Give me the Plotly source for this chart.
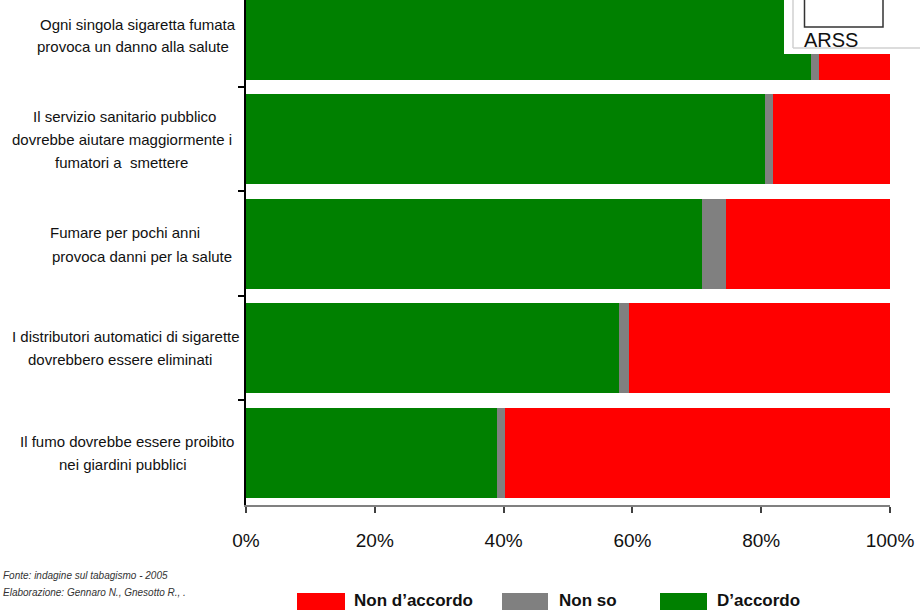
import plotly.graph_objects as go

# ---- data ----
categories = [
    "Ogni singola sigaretta fumata provoca un danno alla salute",
    "Il servizio sanitario pubblico dovrebbe aiutare maggiormente i fumatori a smettere",
    "Fumare per pochi anni provoca danni per la salute",
    "I distributori automatici di sigarette dovrebbero essere eliminati",
    "Il fumo dovrebbe essere proibito nei giardini pubblici",
]
label_lines = [
    ["Ogni singola sigaretta fumata", "provoca un danno alla salute"],
    ["Il servizio sanitario pubblico", "dovrebbe aiutare maggiormente i", "fumatori a\u00a0 smettere"],
    ["Fumare per pochi anni", "provoca danni per la salute"],
    ["I distributori automatici di sigarette", "dovrebbero essere eliminati"],
    ["Il fumo dovrebbe essere proibito", "nei giardini pubblici"],
]
d_accordo = [87.7, 80.6, 70.8, 57.9, 39.0]
non_so = [1.3, 1.2, 3.7, 1.6, 1.2]
non_d_accordo = [11.0, 18.2, 25.5, 40.5, 59.8]
series_names = ["D\u2019accordo", "Non so", "Non d\u2019accordo"]
series_colors = ["#008000", "#808080", "#FF0000"]
x_ticks = [0, 20, 40, 60, 80, 100]
source_lines = ["Fonte: indagine sul tabagismo - 2005", "Elaborazione: Gennaro N., Gnesotto R., ."]
logo_text = "ARSS"

# ---- layout constants ----
W, H = 920, 610
ML, MR, MT, MB = 246, 30, 0, 105
PW = W - ML - MR
PH = H - MT - MB
FONT = "Liberation Sans, Arial, sans-serif"


def px_x(px):
    return (px - ML) / PW


def px_y(py):
    return 1 - (py - MT) / PH


fig = go.Figure()
for name, vals, col in zip(series_names, [d_accordo, non_so, non_d_accordo], series_colors):
    fig.add_trace(go.Bar(
        y=categories, x=vals, name=name, orientation="h",
        marker=dict(color=col, line=dict(width=0)),
        showlegend=False, hoverinfo="x+name",
    ))

annotations = []
# category labels (line by line)
line_specs = [
    [(137.5, "center", -10), (133, "center", 12)],
    [(124, "center", -23), (121.7, "center", 0), (121.7, "center", 23)],
    [(48, "left", -11), (50, "left", 13)],
    [(126, "center", -11.5), (120, "center", 11.5)],
    [(126.5, "center", -11.5), (122.5, "center", 11.5)],
]
for cat, lines, specs in zip(categories, label_lines, line_specs):
    for txt, (xp, anchor, dy) in zip(lines, specs):
        annotations.append(dict(
            text=txt, xref="paper", yref="y", x=0, y=cat,
            xshift=xp - ML, yshift=-dy, xanchor=anchor, yanchor="middle",
            showarrow=False, font=dict(family=FONT, size=15, color="#111"),
        ))

# source notes
for txt, yp in zip(source_lines, [575, 592]):
    annotations.append(dict(
        text="<i>" + txt + "</i>", xref="paper", yref="paper",
        x=px_x(1), y=px_y(yp), xanchor="left", yanchor="middle",
        showarrow=False, font=dict(family=FONT, size=10, color="#333"),
    ))

# custom legend
legend_pos = [(297, 345, 352), (502, 548, 557), (660, 707, 715)]
order = [2, 1, 0]
shapes = []
for (x0, x1, xt), idx in zip(legend_pos, order):
    shapes.append(dict(
        type="rect", xref="paper", yref="paper",
        x0=px_x(x0), x1=px_x(x1), y0=px_y(593), y1=px_y(612),
        fillcolor=series_colors[idx], line=dict(width=0),
    ))
    annotations.append(dict(
        text="<b>" + series_names[idx] + "</b>", xref="paper", yref="paper",
        x=px_x(xt), y=px_y(600), xanchor="left", yanchor="middle",
        showarrow=False, font=dict(family=FONT, size=17, color="#111"),
    ))

# ARSS logo box
shapes.append(dict(type="rect", xref="paper", yref="paper", layer="above",
                   x0=px_x(784), x1=px_x(930), y0=px_y(54), y1=px_y(-10),
                   fillcolor="white", line=dict(width=0)))
shapes.append(dict(type="line", xref="paper", yref="paper", layer="above",
                   x0=px_x(793), x1=px_x(793), y0=px_y(48), y1=px_y(-5),
                   line=dict(color="#d0d0d0", width=1.5)))
shapes.append(dict(type="line", xref="paper", yref="paper", layer="above",
                   x0=px_x(793), x1=px_x(930), y0=px_y(48), y1=px_y(48),
                   line=dict(color="#d0d0d0", width=1.5)))
shapes.append(dict(type="rect", xref="paper", yref="paper", layer="above",
                   x0=px_x(804.5), x1=px_x(883), y0=px_y(27), y1=px_y(-5),
                   fillcolor="white", line=dict(color="#333", width=1.5)))
annotations.append(dict(
    text=logo_text, xref="paper", yref="paper",
    x=px_x(802), y=px_y(40), xanchor="left", yanchor="middle",
    showarrow=False, font=dict(family=FONT, size=20, color="#111"),
))

fig.update_layout(
    width=W, height=H,
    margin=dict(l=ML, r=MR, t=MT, b=MB, pad=0),
    paper_bgcolor="white", plot_bgcolor="white",
    barmode="stack", bargap=0.139,
    font=dict(family=FONT, color="#111"),
    xaxis=dict(
        range=[0, 100], tickvals=x_ticks, ticktext=[f"{v}%" for v in x_ticks],
        showgrid=False, zeroline=False, showline=True, linecolor="#808080", linewidth=1.5,
        ticks="outside", ticklen=6, tickcolor="#404040", tickwidth=1.5,
        tickfont=dict(family=FONT, size=19, color="#111"), ticklabelstandoff=11,
        fixedrange=True,
    ),
    yaxis=dict(
        type="category", categoryorder="array", categoryarray=categories,
        range=[4.5, -0.33], showticklabels=False, showgrid=False, zeroline=False,
        showline=True, linecolor="#000", linewidth=1.5,
        ticks="outside", ticklen=6, tickcolor="#000", tickwidth=1.5, tickson="boundaries",
        fixedrange=True,
    ),
    shapes=shapes, annotations=annotations,
)

fig.write_html("out.html")
